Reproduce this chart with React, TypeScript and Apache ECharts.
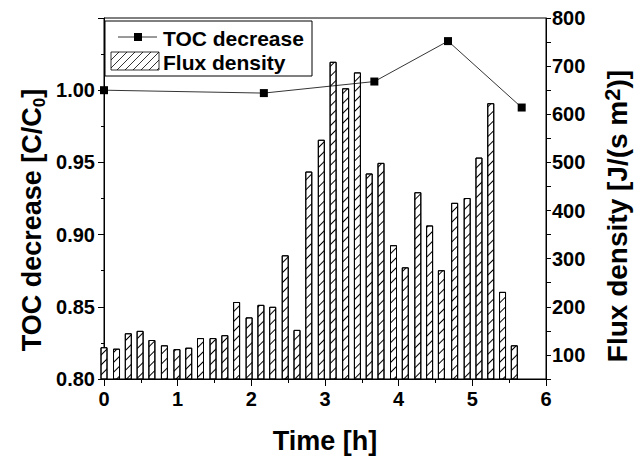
import React, { useEffect, useRef } from "react";
import * as echarts from "echarts";

// ---- data ----
const barTimes = [0, 0.17, 0.33, 0.49, 0.65, 0.82, 0.99, 1.15, 1.31, 1.48, 1.64, 1.8, 1.97, 2.13, 2.29, 2.46, 2.62, 2.78, 2.95, 3.11, 3.28, 3.44, 3.6, 3.76, 3.93, 4.09, 4.26, 4.42, 4.58, 4.76, 4.93, 5.09, 5.25, 5.41, 5.57];
const fluxValues = [116, 113, 145, 150, 131, 120, 112, 115, 135, 135, 141, 210, 178, 204, 200, 307, 152, 481, 547, 709, 654, 687, 477, 499, 328, 282, 438, 369, 276, 416, 426, 510, 623, 231, 120];
const tocTimes = [0, 2.17, 3.67, 4.67, 5.67];
const tocValues = [1.0, 0.998, 1.006, 1.034, 0.988];

const xTitle = "Time [h]";
const leftTitle = "{m|TOC decrease [C/C}{sub|0}{m|]}";
const rightTitle = "{m|Flux density [J/(s m}{sup|2}{m|)]}";
const legendNames = ["TOC decrease", "Flux density"];

const FONT = "Liberation Sans";

function hatchLines(x0: number, y0: number, w: number, h: number, step: number) {
  const out: any[] = [];
  for (let c = x0 - h; c < x0 + w; c += step) {
    const tmin = Math.max(0, (x0 - c) / h);
    const tmax = Math.min(1, (x0 + w - c) / h);
    if (tmin < tmax) {
      out.push({
        type: "line",
        shape: { x1: c + tmin * h, y1: y0 + h - tmin * h, x2: c + tmax * h, y2: y0 + h - tmax * h },
        style: { stroke: "#000", lineWidth: 0.8 },
        z: 101,
      });
    }
  }
  return out;
}

export default function App() {
  const ref = useRef<HTMLDivElement>(null);
  useEffect(() => {
    if (!ref.current) return;
    const chart = echarts.init(ref.current, undefined, { renderer: "svg" });
    const axisLabelBase = { color: "#000", fontSize: 20, fontWeight: "bold", fontFamily: FONT };
    const axisLine = { show: true, onZero: false, lineStyle: { color: "#000", width: 1 } };
    const option: any = {
      animation: false,
      backgroundColor: "#fff",
      grid: { left: 104, right: 90, top: 18, bottom: 77, show: true, borderColor: "#000", borderWidth: 1, backgroundColor: "transparent" },
      xAxis: {
        type: "value",
        min: 0,
        max: 6,
        interval: 1,
        axisLine,
        axisTick: { show: true, inside: false, length: 7, lineStyle: { color: "#000" } },
        minorTick: { show: true, splitNumber: 2, length: 4, lineStyle: { color: "#000" } },
        splitLine: { show: false },
        minorSplitLine: { show: false },
        axisLabel: { ...axisLabelBase, margin: 10 },
      },
      yAxis: [
        {
          type: "value",
          position: "left",
          min: 0.8,
          max: 1.05,
          interval: 0.05,
          axisLine,
          axisTick: { show: true, inside: false, length: 6, lineStyle: { color: "#000" } },
          minorTick: { show: true, splitNumber: 2, length: 3, lineStyle: { color: "#000" } },
          splitLine: { show: false },
          minorSplitLine: { show: false },
          axisLabel: {
            ...axisLabelBase,
            margin: 9,
            formatter: (v: number) => (Math.abs(v - 1.05) < 1e-6 ? "" : v.toFixed(2)),
          },
        },
        {
          type: "value",
          position: "right",
          min: 50,
          max: 800,
          interval: 50,
          axisLine,
          axisTick: { show: true, inside: false, length: 5, lineStyle: { color: "#000" } },
          splitLine: { show: false },
          axisLabel: {
            ...axisLabelBase,
            margin: 6,
            formatter: (v: number) => (Math.round(v) % 100 === 0 ? String(Math.round(v)) : ""),
          },
        },
      ],
      series: [
        {
          name: legendNames[1],
          type: "bar",
          yAxisIndex: 1,
          barWidth: 7,
          clip: true,
          data: barTimes.map((t, i) => [t, fluxValues[i]]),
          itemStyle: {
            color: "#fff",
            borderColor: "#000",
            borderWidth: 1,
            decal: {
              symbol: "rect",
              symbolSize: 1,
              color: "#000",
              dashArrayX: [1, 0],
              dashArrayY: [1, 6],
              rotation: -Math.PI / 4,
            },
          },
        },
        {
          name: legendNames[0],
          type: "line",
          yAxisIndex: 0,
          data: tocTimes.map((t, i) => [t, tocValues[i]]),
          symbol: "rect",
          symbolSize: 8,
          lineStyle: { color: "#000", width: 0.8 },
          itemStyle: { color: "#000" },
          z: 5,
        },
      ],
      graphic: [
        {
          type: "text",
          x: 325,
          y: 441,
          style: { text: xTitle, fill: "#000", font: `bold 27px "${FONT}"`, align: "center", verticalAlign: "middle" },
        },
        {
          type: "text",
          x: 32,
          y: 220,
          rotation: Math.PI / 2,
          style: {
            text: leftTitle,
            align: "center",
            verticalAlign: "middle",
            rich: {
              m: { font: `bold 27px "${FONT}"`, fontSize: 27, fontWeight: "bold", fontFamily: FONT, fill: "#000", lineHeight: 31, verticalAlign: "middle" },
              sub: { font: `bold 17px "${FONT}"`, fontSize: 17, fontWeight: "bold", fontFamily: FONT, fill: "#000", lineHeight: 17, verticalAlign: "bottom" },
            },
          },
        },
        {
          type: "text",
          x: 617,
          y: 216,
          rotation: Math.PI / 2,
          style: {
            text: rightTitle,
            align: "center",
            verticalAlign: "middle",
            rich: {
              m: { font: `bold 28px "${FONT}"`, fontSize: 28, fontWeight: "bold", fontFamily: FONT, fill: "#000", lineHeight: 32, verticalAlign: "middle" },
              sup: { font: `bold 22px "${FONT}"`, fontSize: 22, fontWeight: "bold", fontFamily: FONT, fill: "#000", lineHeight: 22, verticalAlign: "top" },
            },
          },
        },
        // legend
        {
          type: "rect",
          shape: { x: 105, y: 21, width: 207, height: 55 },
          style: { fill: "#fff", stroke: "#000", lineWidth: 1 },
          z: 100,
        },
        {
          type: "line",
          shape: { x1: 118, y1: 37, x2: 157, y2: 37 },
          style: { stroke: "#000", lineWidth: 0.8 },
          z: 101,
        },
        {
          type: "rect",
          shape: { x: 134, y: 33, width: 8, height: 8 },
          style: { fill: "#000" },
          z: 102,
        },
        {
          type: "text",
          x: 163,
          y: 38,
          style: { text: legendNames[0], fill: "#000", font: `bold 21px "${FONT}"`, verticalAlign: "middle" },
          z: 101,
        },
        {
          type: "rect",
          shape: { x: 111, y: 52, width: 48, height: 18 },
          style: { fill: "#fff", stroke: "#000", lineWidth: 0.8 },
          z: 101,
        },
        ...hatchLines(111, 52, 48, 18, 8),
        {
          type: "text",
          x: 163,
          y: 62,
          style: { text: legendNames[1], fill: "#000", font: `bold 21px "${FONT}"`, verticalAlign: "middle" },
          z: 101,
        },
      ],
    };
    chart.setOption(option);
    return () => chart.dispose();
  }, []);
  return <div ref={ref} style={{ position: "absolute", left: 0, top: 0, width: 636, height: 456 }} />;
}
